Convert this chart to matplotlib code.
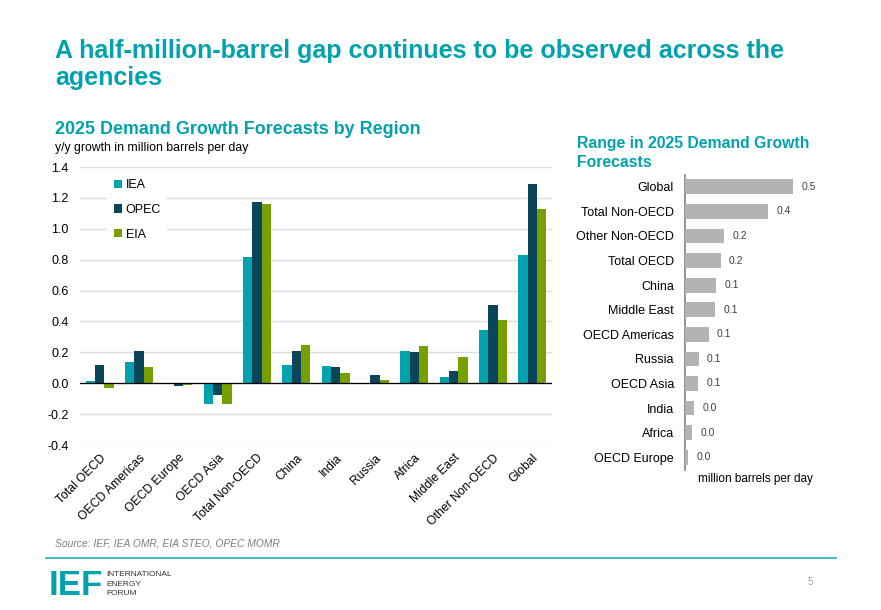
import matplotlib
matplotlib.use("Agg")
import matplotlib.pyplot as plt
import numpy as np
from matplotlib.lines import Line2D

plt.rcParams['font.family'] = ['Liberation Sans', 'DejaVu Sans']

# ---------------- data ----------------
regions = ["Total OECD", "OECD Americas", "OECD Europe", "OECD Asia", "Total Non-OECD",
           "China", "India", "Russia", "Africa", "Middle East", "Other Non-OECD", "Global"]
iea  = [0.013, 0.14, 0.0, -0.134, 0.82, 0.117, 0.11, 0.0, 0.21, 0.041, 0.344, 0.833]
opec = [0.117, 0.21, -0.017, -0.078, 1.171, 0.208, 0.102, 0.056, 0.203, 0.082, 0.509, 1.292]
eia  = [-0.032, 0.108, -0.011, -0.134, 1.162, 0.247, 0.069, 0.019, 0.238, 0.167, 0.409, 1.13]
series_names = ["IEA", "OPEC", "EIA"]

range_regions = ["Global", "Total Non-OECD", "Other Non-OECD", "Total OECD", "China",
                 "Middle East", "OECD Americas", "Russia", "OECD Asia", "India",
                 "Africa", "OECD Europe"]
range_values = [0.459, 0.353, 0.166, 0.151, 0.132, 0.128, 0.100, 0.058, 0.055, 0.039,
                0.031, 0.014]

yticks = [-0.4, -0.2, 0.0, 0.2, 0.4, 0.6, 0.8, 1.0, 1.2, 1.4]

TEAL = "#00A3AD"
NAVY = "#0B4559"
GREEN = "#76A000"
GRAY = "#B3B3B3"

W, H = 881, 610
fig = plt.figure(figsize=(W / 100, H / 100), dpi=100)
fig.patch.set_facecolor("white")

def fx(px):
    return px / W

def fy(py):
    return 1 - py / H

# ---------------- titles ----------------
fig.text(fx(55), fy(58), "A half-million-barrel gap continues to be observed across the",
         color=TEAL, fontsize=18, fontweight="bold", ha="left", va="baseline")
fig.text(fx(55), fy(85), "agencies",
         color=TEAL, fontsize=18, fontweight="bold", ha="left", va="baseline")
fig.text(fx(55), fy(134), "2025 Demand Growth Forecasts by Region",
         color=TEAL, fontsize=12.9, fontweight="bold", ha="left", va="baseline")
fig.text(fx(55), fy(151), "y/y growth in million barrels per day",
         color="black", fontsize=8.8, ha="left", va="baseline")

# ---------------- left chart ----------------
ax = fig.add_axes([fx(80), fy(445), fx(552) - fx(80), (445 - 167) / H])
x = np.arange(len(regions))
bw = 0.24
colors = [TEAL, NAVY, GREEN]
for i, (vals, c, name) in enumerate(zip([iea, opec, eia], colors, series_names)):
    ax.bar(x + (i - 1) * bw, vals, width=bw, color=c, label=name, zorder=3,
           edgecolor="none")
ax.set_xlim(-0.5, len(regions) - 0.5)
ax.set_ylim(-0.4, 1.4)
ax.set_yticks(yticks)
ax.set_yticklabels([f"{v:.1f}" for v in yticks], fontsize=9)
for s in ax.spines.values():
    s.set_visible(False)
ax.tick_params(axis="y", length=0, pad=8)
ax.tick_params(axis="x", length=0)
ax.grid(axis="y", color="#DCDCDC", linewidth=1, zorder=0)
ax.axhline(0, color="black", linewidth=0.9, zorder=4)
ax.set_xticks(x)
ax.set_xticklabels(regions, rotation=45, ha="right", rotation_mode="anchor", fontsize=8.7)
ax.tick_params(axis="x", pad=5)
leg = ax.legend(loc="upper left", bbox_to_anchor=(0.045, 1.0), frameon=True,
                fontsize=9, handlelength=0.65, handleheight=0.65, handletextpad=0.3,
                labelspacing=1.0, borderpad=0.5)
leg.get_frame().set_facecolor("white")
leg.get_frame().set_edgecolor("none")
leg.get_frame().set_alpha(1)
leg.set_zorder(5)

# ---------------- right chart ----------------
fig.text(fx(577), fy(148), "Range in 2025 Demand Growth",
         color=TEAL, fontsize=11.3, fontweight="bold", ha="left", va="baseline")
fig.text(fx(577), fy(167), "Forecasts",
         color=TEAL, fontsize=11.3, fontweight="bold", ha="left", va="baseline")

ax2 = fig.add_axes([fx(685), fy(469.5), fx(815) - fx(685), (469.5 - 174.5) / H])
yy = np.arange(len(range_regions))
ax2.barh(yy, range_values, height=0.6, color=GRAY, edgecolor="none", zorder=3)
ax2.set_ylim(len(range_regions) - 0.5, -0.5)
ax2.set_xlim(0, 0.55)
for s in ["top", "right", "bottom"]:
    ax2.spines[s].set_visible(False)
ax2.spines["left"].set_color("#808080")
ax2.spines["left"].set_linewidth(1.2)
ax2.set_xticks([])
ax2.set_yticks(yy)
ax2.set_yticklabels(range_regions, fontsize=9)
ax2.tick_params(axis="y", length=0, pad=8)
for yi, v in zip(yy, range_values):
    ax2.annotate(f"{v:.1f}", xy=(v, yi), xytext=(6, 0), textcoords="offset points",
                 ha="left", va="center", fontsize=7.5, color="#404040")
fig.text(fx(755), fy(482), "million barrels per day", fontsize=8.5, color="black",
         ha="center", va="baseline")

# ---------------- footer ----------------
fig.text(fx(55), fy(546), "Source: IEF, IEA OMR, EIA STEO, OPEC MOMR",
         fontsize=7.4, style="italic", color="#7F7F7F", ha="left", va="baseline")
fig.add_artist(Line2D([fx(46), fx(836)], [fy(558), fy(558)], color="#1DB5C2",
                      linewidth=1.2, transform=fig.transFigure))
fig.text(fx(49), fy(595), "IEF", fontsize=25, fontweight="bold", color=TEAL,
         ha="left", va="baseline")
fig.text(fx(106), fy(576), "INTERNATIONAL", fontsize=6, color="#333333", ha="left",
         va="baseline")
fig.text(fx(106), fy(585.5), "ENERGY", fontsize=6, color="#333333", ha="left",
         va="baseline")
fig.text(fx(106), fy(595), "FORUM", fontsize=6, color="#333333", ha="left",
         va="baseline")
fig.text(fx(808), fy(585), "5", fontsize=7, color="#A0A0A0", ha="left",
         va="baseline")

fig.savefig("out.png", dpi=100, facecolor="white")
